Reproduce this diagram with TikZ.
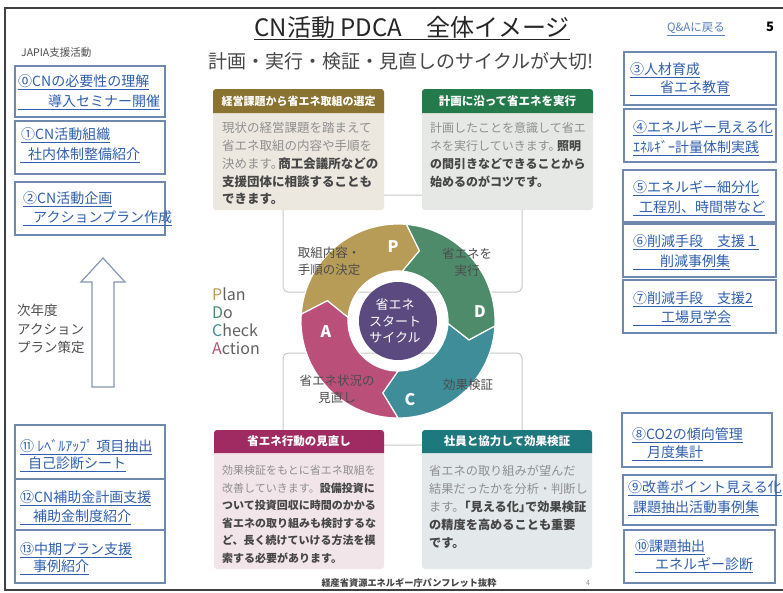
\documentclass[tikz,border=0pt]{standalone}
\usepackage{fontspec}
\setmainfont{Noto Sans CJK JP}
\definecolor{linkblue}{HTML}{2F5FAE}
\definecolor{boxc}{HTML}{6E88B0}
\definecolor{arrc}{HTML}{8496B5}
\definecolor{framec}{HTML}{404040}
\definecolor{gtx}{HTML}{8F8F8F}
\definecolor{btx}{HTML}{464646}
\definecolor{hdrP}{HTML}{8A7331}
\definecolor{hdrD}{HTML}{257A4C}
\definecolor{hdrA}{HTML}{A02B62}
\definecolor{hdrC}{HTML}{1E797F}
\definecolor{bodyP}{HTML}{ECE8E0}
\definecolor{bodyD}{HTML}{E5E8E4}
\definecolor{bodyA}{HTML}{F2E5EA}
\definecolor{bodyC}{HTML}{E3E8EA}
\definecolor{segP}{HTML}{B79C58}
\definecolor{segD}{HTML}{4E8B6A}
\definecolor{segC}{HTML}{3E8D99}
\definecolor{segA}{HTML}{BA4F79}
\definecolor{purp}{HTML}{5B4A7F}
\definecolor{connc}{HTML}{C9C9C9}
\definecolor{lblc}{HTML}{4D4D4D}
\newcommand\grtx[1]{\textcolor{gtx}{#1}}
\newcommand\bdtx[1]{\textcolor{btx}{\bfseries #1}}
\newcommand\pdseg[3]{%
  \fill[#1, draw=white, line width=1.2pt] (#2:97) arc[start angle=#2, end angle=#3, radius=97]
    -- ({#3-12}:73.5) -- (#3:50) arc[start angle=#3, end angle=#2, radius=50]
    -- ({#2-12}:73.5) -- cycle;}
\tikzset{
  linkbox/.style={draw=boxc, line width=1.3pt},
  ltxt/.style={anchor=west, inner sep=0pt, text=linkblue, font=\fontsize{14}{16}\selectfont},
  htxt/.style={inner sep=0pt, text=white, font=\bfseries\fontsize{11.5}{13}\selectfont},
  btxt/.style={anchor=north west, inner sep=0pt, align=left},
  rlbl/.style={inner sep=0pt, text=lblc, align=center, font=\fontsize{12.5}{17}\selectfont},
  seglbl/.style={inner sep=0pt, text=white, font=\bfseries\fontsize{16}{18}\selectfont},
  connline/.style={draw=connc, line width=1pt, rounded corners=5pt},
}
\begin{document}
\begin{tikzpicture}[x=1pt,y=-1pt]
\useasboundingbox (0,0) rectangle (783,592);
\fill[white] (0,0) rectangle (783,592);
\draw[framec, line width=1.2pt] (783,8) -- (5,8) -- (5,590) -- (783,590);

% title area
\node[font=\fontsize{24}{28}\selectfont, text=black!85, inner sep=0pt] (title) at (412,28) {\underline{CN活動 PDCA　全体イメージ}};
\node[font=\fontsize{19}{22}\selectfont, text=black!72, inner sep=0pt] (sub) at (401,61) {計画・実行・検証・見直しのサイクルが大切!};
\node[anchor=west, font=\fontsize{10.5}{12}\selectfont, text=black!70, inner sep=0pt] (japia) at (21,53) {JAPIA支援活動};
\node[font=\fontsize{11.5}{13}\selectfont, text=linkblue!80, inner sep=0pt] (qa) at (696,29) {\underline{Q\&Aに戻る}};
\node[font=\bfseries\fontsize{13}{15}\selectfont, inner sep=0pt] (pg5) at (770,27) {5};

% connector frames
\draw[connline] (283,195) rectangle (522,292);
\draw[connline] (283,353) rectangle (522,445);

% panel P
\fill[bodyP, rounded corners=3pt] (213,89) rectangle (384,210);
\fill[hdrP] (213,113) [rounded corners=3pt] -- (213,89) -- (384,89) [sharp corners] -- (384,113) -- cycle;
\node[htxt, font=\bfseries\fontsize{11}{13}\selectfont] (hP) at (298.5,101) {経営課題から省エネ取組の選定};
\node[btxt, font=\fontsize{12.5}{17.8}\selectfont] (tP) at (222,122) {\grtx{現状の経営課題を踏まえて}\\\grtx{省エネ取組の内容や手順を}\\\grtx{決めます。}\kern-.4em\bdtx{商工会議所などの}\\\bdtx{支援団体に相談することも}\\\bdtx{できます。}};

% panel D
\fill[bodyD, rounded corners=3pt] (422,89) rectangle (593,210);
\fill[hdrD] (422,113) [rounded corners=3pt] -- (422,89) -- (593,89) [sharp corners] -- (593,113) -- cycle;
\node[htxt] (hD) at (507.5,101) {計画に沿って省エネを実行};
\node[btxt, font=\fontsize{12}{17.9}\selectfont] (tD) at (430,122.5) {\grtx{計画したことを意識して省エ}\\\grtx{ネを実行していきます。}\kern-.3em\bdtx{照明}\\\bdtx{の間引きなどできることから}\\\bdtx{始めるのがコツです。}};

% panel A
\fill[bodyA, rounded corners=3pt] (214,430) rectangle (384,569);
\fill[hdrA] (214,453) [rounded corners=3pt] -- (214,430) -- (384,430) [sharp corners] -- (384,453) -- cycle;
\node[htxt] (hA) at (299,441.5) {省エネ行動の見直し};
\node[btxt, font=\fontsize{11}{17.6}\selectfont] (tA) at (222,465) {\grtx{効果検証をもとに省エネ取組を}\\\grtx{改善していきます。}\bdtx{設備投資に}\\\bdtx{ついて投資回収に時間のかかる}\\\bdtx{省エネの取り組みも検討するな}\\\bdtx{ど、長く続けていける方法を模}\\\bdtx{索する必要があります。}};

% panel C
\fill[bodyC, rounded corners=3pt] (422,430) rectangle (592,569);
\fill[hdrC] (422,453) [rounded corners=3pt] -- (422,430) -- (592,430) [sharp corners] -- (592,453) -- cycle;
\node[htxt] (hC) at (507,441.5) {社員と協力して効果検証};
\node[btxt, font=\fontsize{12.2}{18}\selectfont] (tC) at (429,464.5) {\grtx{省エネの取り組みが望んだ}\\\grtx{結果だったかを分析・判断し}\\\grtx{ます。}\kern-.5em\bdtx{「見える化」\kern-.5em で効果検証}\\\bdtx{の精度を高めることも重要}\\\bdtx{です。}};

% wheel
\begin{scope}[shift={(398,321)}, yscale=-1]
  \pdseg{segP}{176}{85}
  \pdseg{segD}{85}{-3}
  \pdseg{segC}{-3}{-90}
  \pdseg{segA}{-90}{-184}
  \fill[purp] (0,0) circle[radius=39];
\end{scope}
\node[align=center, text=white, inner sep=0pt, font=\fontsize{13}{16.5}\selectfont] (ctr) at (395,321) {省エネ\\スタート\\サイクル};
\node[seglbl] (sP) at (393,247) {P};
\node[seglbl] (sD) at (480,312) {D};
\node[seglbl] (sC) at (410,400) {C};
\node[seglbl] (sA) at (326,332) {A};
\node[rlbl] (lp) at (329,261) {取組内容・\\手順の決定};
\node[rlbl] (ld) at (467,262) {省エネを\\実行};
\node[rlbl] (lc) at (468,385) {効果検証};
\node[rlbl] (la) at (337,389) {省エネ状況の\\見直し};

\node[anchor=north west, inner sep=0pt, align=left, font=\fontsize{16}{17.7}\selectfont, text=black!62] (pdca) at (212,288) {\textcolor{segP}{P}lan\\\textcolor{segD}{D}o\\\textcolor{segC}{C}heck\\\textcolor{segA}{A}ction};

% left arrow and text
\draw[draw=arrc, line width=1.2pt, fill=white] (92,387) -- (92,282) -- (81,282) -- (103,258) -- (125,282) -- (114,282) -- (114,387) -- cycle;
\node[anchor=north west, inner sep=0pt, align=left, font=\fontsize{13.5}{18.5}\selectfont, text=lblc] (nxt) at (17,304) {次年度\\アクション\\プラン策定};

% left link boxes
\draw[linkbox] (15,66) rectangle (165,117);
\node[ltxt] (l0a) at (18,82) {\underline{⓪CNの必要性の理解}};
\node[ltxt] (l0b) at (18,102) {\underline{\hspace*{30pt}導入セミナー開催}};
\draw[linkbox] (15,121) rectangle (165,174);
\node[ltxt] (l1a) at (21,135) {\underline{①CN活動組織}};
\node[ltxt] (l1b) at (20,155) {\underline{\hspace*{8pt}社内体制整備紹介}};
\draw[linkbox] (15,182) rectangle (165,235);
\node[ltxt] (l2a) at (23,199) {\underline{②CN活動企画}};
\node[ltxt] (l2b) at (23,218) {\underline{\hspace*{10pt}アクションプラン作成}};

\draw[linkbox] (15,425) rectangle (165,479);
\node[ltxt] (l11a) at (20,447) {\underline{⑪ ﾚﾍﾞﾙｱｯﾌﾟ 項目抽出}};
\node[ltxt] (l11b) at (20,464) {\underline{\hspace*{8pt}自己診断シート}};
\draw[linkbox] (15,479) rectangle (165,530);
\node[ltxt] (l12a) at (20,498) {\underline{⑫CN補助金計画支援}};
\node[ltxt] (l12b) at (20,517) {\underline{\hspace*{13pt}補助金制度紹介}};
\draw[linkbox] (15,530) rectangle (165,583);
\node[ltxt] (l13a) at (20,550) {\underline{⑬中期プラン支援}};
\node[ltxt] (l13b) at (20,567) {\underline{\hspace*{13pt}事例紹介}};

% right link boxes
\draw[linkbox] (624,52) rectangle (776,105);
\node[ltxt] (r3a) at (630,70) {\underline{③人材育成}};
\node[ltxt] (r3b) at (630,88) {\underline{\hspace*{30pt}省エネ教育}};
\draw[linkbox] (624,109) rectangle (776,162);
\node[ltxt] (r4a) at (633,128) {\underline{④エネルギー見える化}};
\node[ltxt] (r4b) at (633,148) {\underline{ｴﾈﾙｷﾞｰ計量体制実践}};
\draw[linkbox] (623,170) rectangle (776,222);
\node[ltxt] (r5a) at (633,188) {\underline{⑤エネルギー細分化}};
\node[ltxt] (r5b) at (633,208) {\underline{\hspace*{6pt}工程別、時間帯など}};
\draw[linkbox] (623,224) rectangle (776,277);
\node[ltxt] (r6a) at (633,242) {\underline{⑥削減手段　支援１}};
\node[ltxt] (r6b) at (633,262) {\underline{\hspace*{27pt}削減事例集}};
\draw[linkbox] (623,280) rectangle (776,333);
\node[ltxt] (r7a) at (633,299) {\underline{⑦削減手段　支援2}};
\node[ltxt] (r7b) at (633,318) {\underline{\hspace*{28pt}工場見学会}};

\draw[linkbox] (622,413) rectangle (772,467);
\node[ltxt] (r8a) at (632,435) {\underline{⑧CO2の傾向管理}};
\node[ltxt] (r8b) at (632,453) {\underline{\hspace*{15pt}月度集計}};
\draw[linkbox] (623,475) rectangle (776,525);
\node[ltxt] (r9a) at (628,488) {\underline{⑨改善ポイント見える化}};
\node[ltxt] (r9b) at (628,508) {\underline{\hspace*{5pt}課題抽出活動事例集}};
\draw[linkbox] (624,530) rectangle (775,583);
\node[ltxt] (r10a) at (635,547) {\underline{⑩課題抽出}};
\node[ltxt] (r10b) at (635,565) {\underline{\hspace*{20pt}エネルギー診断}};

% footer
\node[font=\bfseries\fontsize{9.2}{11}\selectfont, text=btx, inner sep=0pt] (foot) at (409,583) {経産省資源エネルギー庁パンフレット抜粋};
\node[font=\fontsize{7}{8}\selectfont, text=gtx, inner sep=0pt] (pg4) at (588,583) {4};
\end{tikzpicture}
\end{document}
